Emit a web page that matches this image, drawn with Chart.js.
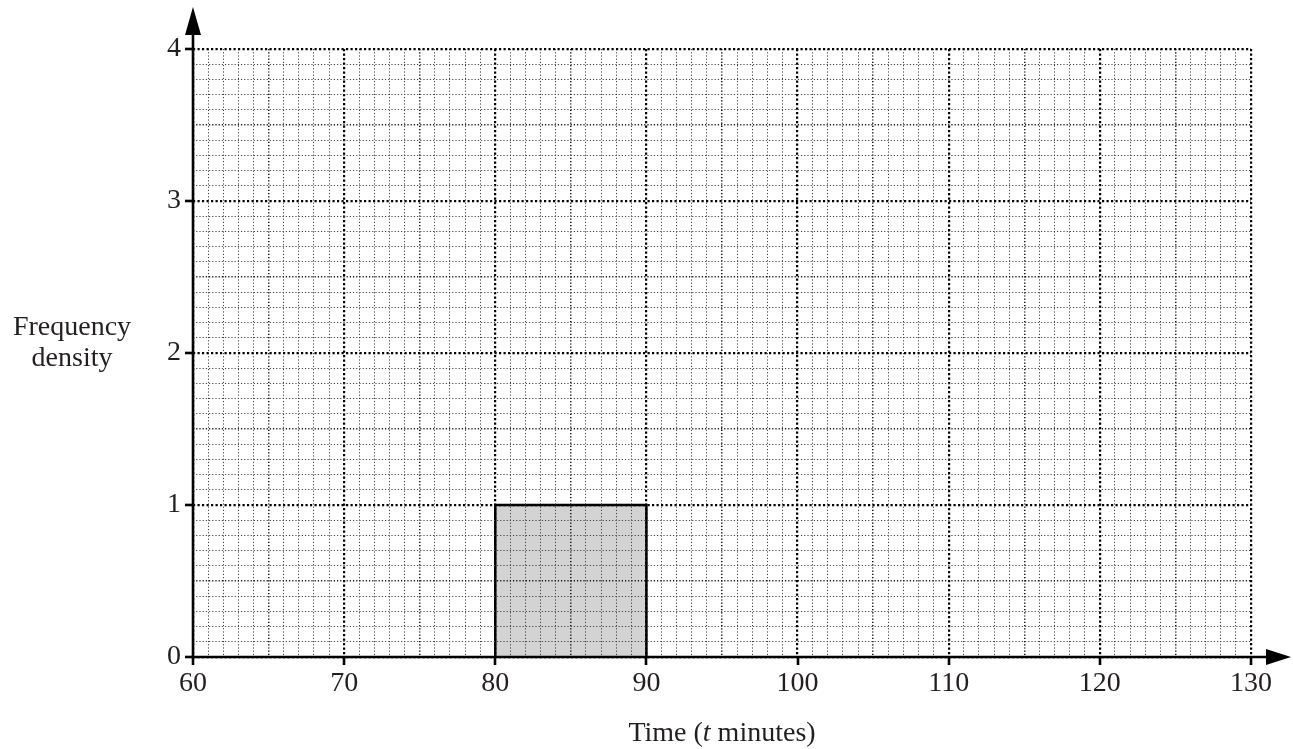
<!DOCTYPE html>
<html>
<head>
<meta charset="utf-8">
<script src="https://cdn.jsdelivr.net/npm/chart.js@4"></script>
<style>
  html, body { margin: 0; padding: 0; background: #fff; }
  #wrap { width: 1293px; height: 749px; position: relative; }
</style>
</head>
<body>
<div id="wrap"><canvas id="c"></canvas></div>
<script>
// ---- data ----
const classStart = [80];
const classEnd = [90];
const frequencyDensity = [1];
const xMin = 60, xMax = 130;
const yMin = 0, yMax = 4;
const xLabelEvery = 10;
const yLabelEvery = 1;
const xTitle = ['Time (', 't', ' minutes)'];
const yTitle = ['Frequency', 'density'];

// build polygon points for histogram bars
const barPoints = [];
for (let i = 0; i < classStart.length; i++) {
  barPoints.push({x: classStart[i], y: 0});
  barPoints.push({x: classStart[i], y: frequencyDensity[i]});
  barPoints.push({x: classEnd[i], y: frequencyDensity[i]});
  barPoints.push({x: classEnd[i], y: 0});
}

const FONT = "'Liberation Serif', 'Times New Roman', serif";
const TEXT = '#231f20';
const FS = 28;

function xKind(v) {
  const r = Math.round(v);
  if (r % 10 === 0) return 2;
  if (r % 5 === 0) return 1;
  return 0;
}
function yKind(v) {
  const r = Math.round(v * 10);
  if (r % 10 === 0) return 2;
  if (r % 5 === 0) return 1;
  return 0;
}
const gridWidth = [1, 1.5, 0];
const gridColor = ['#444', '#111', 'rgba(0,0,0,0)'];

const axesPlugin = {
  id: 'axesPlugin',
  afterDraw(chart) {
    const ctx = chart.ctx;
    const xs = chart.scales.x, ys = chart.scales.y;
    const x0 = xs.getPixelForValue(xMin);
    const y0 = ys.getPixelForValue(yMin);
    const xEnd = xs.getPixelForValue(xMax);
    const yTop = ys.getPixelForValue(yMax);
    ctx.save();
    ctx.strokeStyle = '#000';
    ctx.fillStyle = '#000';
    ctx.lineWidth = 2.6;
    ctx.setLineDash([]);
    // y axis
    ctx.beginPath();
    ctx.moveTo(x0, y0 + 1.3);
    ctx.lineTo(x0, yTop - 20);
    ctx.stroke();
    ctx.beginPath();
    ctx.moveTo(x0, yTop - 42);
    ctx.lineTo(x0 - 8, yTop - 14);
    ctx.lineTo(x0 + 8, yTop - 14);
    ctx.closePath();
    ctx.fill();
    // x axis
    ctx.beginPath();
    ctx.moveTo(x0 - 1.3, y0);
    ctx.lineTo(xEnd + 20, y0);
    ctx.stroke();
    ctx.beginPath();
    ctx.moveTo(xEnd + 40, y0);
    ctx.lineTo(xEnd + 15, y0 - 8);
    ctx.lineTo(xEnd + 15, y0 + 8);
    ctx.closePath();
    ctx.fill();

    // x title with italic t
    ctx.fillStyle = TEXT;
    ctx.textBaseline = 'middle';
    const parts = xTitle;
    const fonts = [FS + 'px ' + FONT, 'italic ' + FS + 'px ' + FONT, FS + 'px ' + FONT];
    let total = 0;
    const widths = parts.map((p, i) => { ctx.font = fonts[i]; const w = ctx.measureText(p).width; total += w; return w; });
    let cx = (x0 + xEnd) / 2 - total / 2;
    const ty = 734;
    parts.forEach((p, i) => {
      ctx.font = fonts[i];
      ctx.textAlign = 'left';
      ctx.fillText(p, cx, ty);
      cx += widths[i];
    });
    // y title horizontal
    ctx.font = FS + 'px ' + FONT;
    ctx.textAlign = 'center';
    ctx.fillText(yTitle[0], 72, 328);
    ctx.fillText(yTitle[1], 72, 359);
    ctx.restore();
  }
};

const majorGrid = {
  z: 1,
  color: '#000',
  lineWidth: 2.2,
  drawTicks: false
};

new Chart(document.getElementById('c'), {
  type: 'line',
  data: {
    datasets: [{
      data: barPoints,
      borderColor: '#000',
      borderWidth: 2.5,
      backgroundColor: '#d3d3d3',
      fill: 'origin',
      pointRadius: 0,
      tension: 0
    }]
  },
  options: {
    responsive: true,
    maintainAspectRatio: false,
    animation: false,
    events: [],
    layout: { padding: { top: 49, right: 42, left: 0, bottom: 0 } },
    plugins: { legend: { display: false }, tooltip: { enabled: false } },
    scales: {
      x: {
        type: 'linear',
        min: xMin, max: xMax,
        afterFit(s) { s.height = 92; },
        ticks: {
          stepSize: 1,
          autoSkip: false,
          maxRotation: 0,
          padding: 2,
          color: TEXT,
          font: { family: FONT, size: FS },
          callback: v => (Math.round(v) % xLabelEvery === 0 ? String(Math.round(v)) : '')
        },
        grid: {
          z: 1,
          color: c => gridColor[xKind(c.tick.value)],
          lineWidth: c => gridWidth[xKind(c.tick.value)],
          tickColor: c => (Math.round(c.tick.value) % xLabelEvery === 0 ? '#000' : 'rgba(0,0,0,0)'),
          tickLength: 8,
          tickWidth: 2.6,
          tickBorderDash: []
        },
        border: { display: false, dash: [1.2, 2] }
      },
      xMaj: {
        type: 'linear',
        position: 'bottom',
        min: xMin, max: xMax,
        afterFit(s) { s.height = 0; },
        ticks: { stepSize: xLabelEvery, display: false },
        grid: majorGrid,
        border: { display: false, dash: [2.2, 2.3] }
      },
      y: {
        type: 'linear',
        min: yMin, max: yMax,
        afterFit(s) { s.width = 193; },
        ticks: {
          stepSize: 0.1,
          autoSkip: false,
          padding: 4,
          color: TEXT,
          font: { family: FONT, size: FS },
          callback: v => (Math.abs(v - Math.round(v)) < 1e-6 && Math.round(v) % yLabelEvery === 0 ? String(Math.round(v)) : '')
        },
        grid: {
          z: 1,
          color: c => gridColor[yKind(c.tick.value)],
          lineWidth: c => gridWidth[yKind(c.tick.value)],
          tickColor: c => (Math.abs(c.tick.value - Math.round(c.tick.value)) < 1e-6 ? '#000' : 'rgba(0,0,0,0)'),
          tickLength: 8,
          tickWidth: 2.6,
          tickBorderDash: []
        },
        border: { display: false, dash: [1.2, 2] }
      },
      yMaj: {
        type: 'linear',
        position: 'left',
        min: yMin, max: yMax,
        afterFit(s) { s.width = 0; },
        ticks: { stepSize: yLabelEvery, display: false },
        grid: majorGrid,
        border: { display: false, dash: [2.2, 2.3] }
      }
    }
  },
  plugins: [axesPlugin]
});
</script>
</body>
</html>
